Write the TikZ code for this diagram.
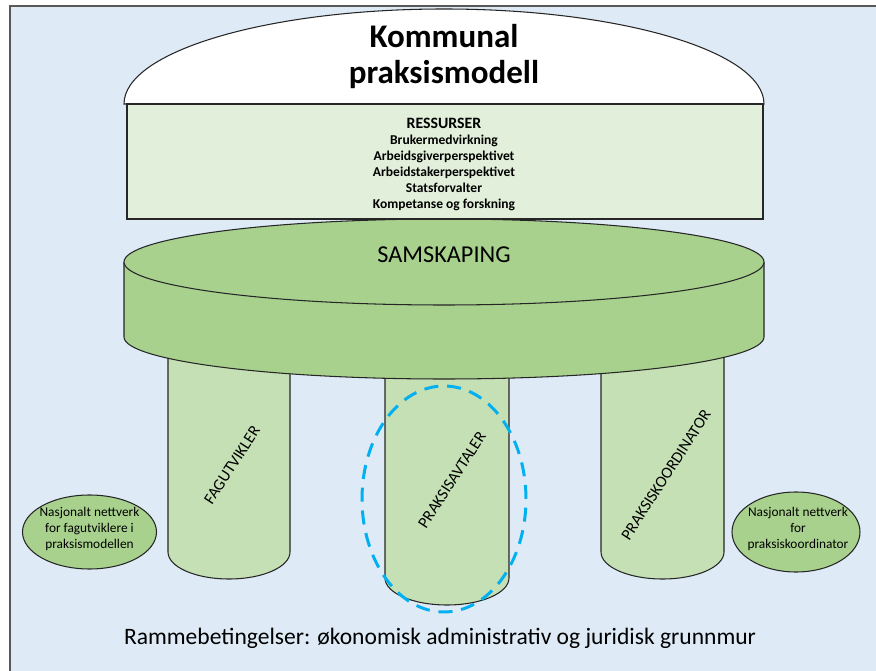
\documentclass[tikz,border=0pt]{standalone}
\usepackage{fontspec}
\setmainfont{Carlito}
\usetikzlibrary{calc}
\definecolor{bgblue}{HTML}{DEEBF7}
\definecolor{resgreen}{HTML}{E2EFDA}
\definecolor{discgreen}{HTML}{A9D18E}
\definecolor{leggreen}{HTML}{C5E0B4}
\definecolor{dashblue}{HTML}{00B0F0}
\tikzstyle{frame}=[fill=bgblue, draw=black!65, line width=1pt]
\tikzstyle{part}=[draw=black!85, line width=0.6pt]
\tikzstyle{annot} = [align=center, inner sep=0pt]
\tikzstyle{leglabel} = [annot, rotate=57, font=\fontsize{9.2}{11}\selectfont]
\tikzstyle{nettext} = [annot, font=\fontsize{7.6}{9}\selectfont]
\newcommand{\drawleg}[3]
{
  \path[part, fill=leggreen] (#1,340) -- (#1,#3) arc[start angle=180, end angle=360, x radius={(#2-#1)/2}, y radius=27] -- (#2,340);
}

\begin{document}
\begin{tikzpicture}[x=0.02cm, y=0.02cm]
	\useasboundingbox (0,0) rectangle (876,670);
	\clip (0,0) rectangle (876,670);
	\draw[frame] (10,664) rectangle (890,-20);

	% legs
	\drawleg{168}{290}{118}
	\drawleg{385}{509}{92}
	\drawleg{601}{724}{118}

	% samskaping disc
	\path[part, fill=discgreen] (124,408) -- (124,333) arc[start angle=180, end angle=360, x radius=320, y radius=42] -- (764,408);
	\draw[part, fill=discgreen] (444,408) ellipse[x radius=320, y radius=43];
	\node[annot, font=\fontsize{13.8}{16}\selectfont] (samskaping) at (444,415) {SAMSKAPING};

	% dome and resources
	\draw[part, fill=white] (124,566) arc[start angle=180, end angle=0, x radius=320, y radius=95] -- cycle;
	\node[annot, font=\fontsize{18.8}{21}\selectfont\bfseries] (title) at (444,613.5) {Kommunal\\praksismodell};
	\draw[part, fill=resgreen] (127,566) rectangle (763,451);
	\node[annot, font=\fontsize{9}{10}\selectfont\bfseries] (restitle) at (444,547) {RESSURSER};
	\node[annot, font=\fontsize{7.7}{9.1}\selectfont\bfseries] (reslist) at (444,497) {Brukermedvirkning\\Arbeidsgiverperspektivet\\Arbeidstakerperspektivet\\Statsforvalter\\Kompetanse og forskning};

	% leg labels
	\node[leglabel] (fagutvikler) at (232,205) {FAGUTVIKLER};
	\node[leglabel] (avtaler) at (452,190) {PRAKSISAVTALER};
	\node[leglabel] (koordinator) at (666,195) {PRAKSISKOORDINATOR};
	\draw[dashblue, line width=1.7pt, dash pattern=on 8pt off 5pt] (444,171) ellipse[x radius=82, y radius=113];

	% networks
	\draw[part, fill=discgreen] (89.5,138) ellipse[x radius=67, y radius=37];
	\node[nettext] (netfag) at (89.5,141) {Nasjonalt nettverk\\for fagutviklere i\\praksismodellen};
	\draw[part, fill=discgreen] (796,138) ellipse[x radius=64, y radius=40];
	\node[nettext] (netkoord) at (798,141) {Nasjonalt nettverk\\for\\praksiskoordinator};

	\node[annot, font=\fontsize{13.4}{16}\selectfont] (ramme) at (440,32) {Rammebetingelser: økonomisk administrativ og juridisk grunnmur};
\end{tikzpicture}
\end{document}
